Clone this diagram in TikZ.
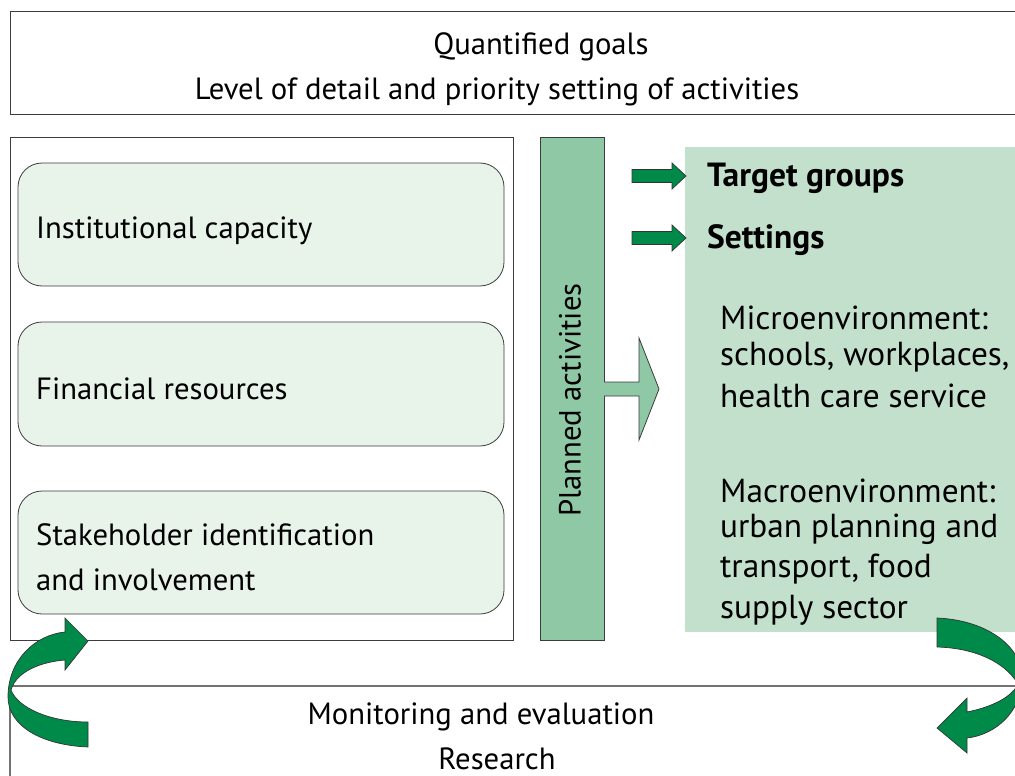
\documentclass[tikz,border=0pt]{standalone}
\usepackage{fontspec}
\setmainfont{PT Sans}
\definecolor{arrowgreen}{RGB}{0,138,74}
\definecolor{panelgreen}{RGB}{195,224,204}
\definecolor{bargreen}{RGB}{143,200,165}
\definecolor{boxgreen}{RGB}{232,243,234}
\definecolor{edgegray}{RGB}{60,60,60}
\tikzset{
  frame/.style={draw=edgegray, line width=1pt},
  roundbox/.style={draw=edgegray, line width=0.8pt, fill=boxgreen, rounded corners=24pt},
  txt/.style={font=\fontsize{30.7}{36}\selectfont, inner sep=0pt, anchor=west},
  ctxt/.style={font=\fontsize{30.7}{36}\selectfont, inner sep=0pt},
  rtxt/.style={font=\fontsize{33.3}{40}\selectfont, inner sep=0pt, anchor=west},
  btxt/.style={font=\fontsize{33.5}{40}\selectfont\bfseries, inner sep=0pt, anchor=west},
  greenarrow/.style={fill=arrowgreen, draw=black!80, line width=0.7pt},
}
\begin{document}
\begin{tikzpicture}[x=1pt,y=-1pt]
\clip (0,0) rectangle (1015,776);
\fill[white] (0,0) rectangle (1015,776);
% top box
\draw[frame] (10,12) rectangle (1030,114);
\node[ctxt] (qg) at (541,47) {Quantified goals};
\node[ctxt] (lod) at (497,92) {Level of detail and priority setting of activities};
% left outer box
\draw[frame] (10,137) rectangle (513,640);
\draw[roundbox] (18,163) rectangle (504,286);
\draw[roundbox] (18,322) rectangle (504,446);
\draw[roundbox] (18,491) rectangle (504,614);
\node[txt] (ic) at (36,231) {Institutional capacity};
\node[txt] (fr) at (36,389) {Financial resources};
\node[txt] (sh1) at (36,535) {Stakeholder identification};
\node[txt] (sh2) at (36,580) {and involvement};
% planned activities bar
\draw[frame, fill=bargreen] (540,137) rectangle (604,640);
\node[ctxt, rotate=90] (pa) at (570,400) {Planned activities};
% block arrow
\draw[draw=edgegray, line width=0.8pt, fill=bargreen]
  (604,382) -- (639,382) -- (639,338) -- (659,389) -- (639,440) -- (639,396) -- (604,396);
% right panel
\fill[panelgreen] (685,147) rectangle (1030,632);
% small arrows
\draw[greenarrow] (632,169.5) -- (672,169.5) -- (672,163) -- (686,176) -- (672,189) -- (672,182.5) -- (632,182.5) -- cycle;
\draw[greenarrow] (632,231.5) -- (672,231.5) -- (672,225) -- (686,238) -- (672,251) -- (672,244.5) -- (632,244.5) -- cycle;
\node[btxt] (tg) at (707,178) {Target groups};
\node[btxt] (st) at (707,240) {Settings};
\node[rtxt] (m1) at (720,318) {Microenvironment:};
\node[rtxt] (m2) at (720,357) {schools, workplaces,};
\node[rtxt] (m3) at (720,396) {health care service};
\node[rtxt] (M1) at (720,491) {Macroenvironment:};
\node[rtxt] (M2) at (720,529) {urban planning and};
\node[rtxt] (M3) at (720,569) {transport, food};
\node[rtxt] (M4) at (720,610) {supply sector};
% bottom box
\draw[draw=black!55, line width=1.2pt] (10,800) -- (10,686) -- (1030,686);
\node[ctxt] (me) at (481,717) {Monitoring and evaluation};
\node[ctxt] (rs) at (497,759) {Research};
% curved arrows
\draw[greenarrow]
  (88,747) .. controls (40,745) and (8,725) .. (8,697)
  .. controls (8,660) and (35,635) .. (65,632)
  -- (65,618) -- (88,641) -- (65,670) -- (65,660)
  .. controls (40,662) and (16,672) .. (11,690)
  .. controls (18,708) and (50,722) .. (88,722) -- cycle;
\draw[greenarrow]
  (937,618) .. controls (985,620) and (1022,645) .. (1022,678)
  .. controls (1022,712) and (995,735) .. (967,738)
  -- (967,753) -- (937,728) -- (967,698) -- (967,712)
  .. controls (992,707) and (1012,697) .. (1018,684)
  .. controls (1005,662) and (975,648) .. (937,647) -- cycle;
\end{tikzpicture}
\end{document}
